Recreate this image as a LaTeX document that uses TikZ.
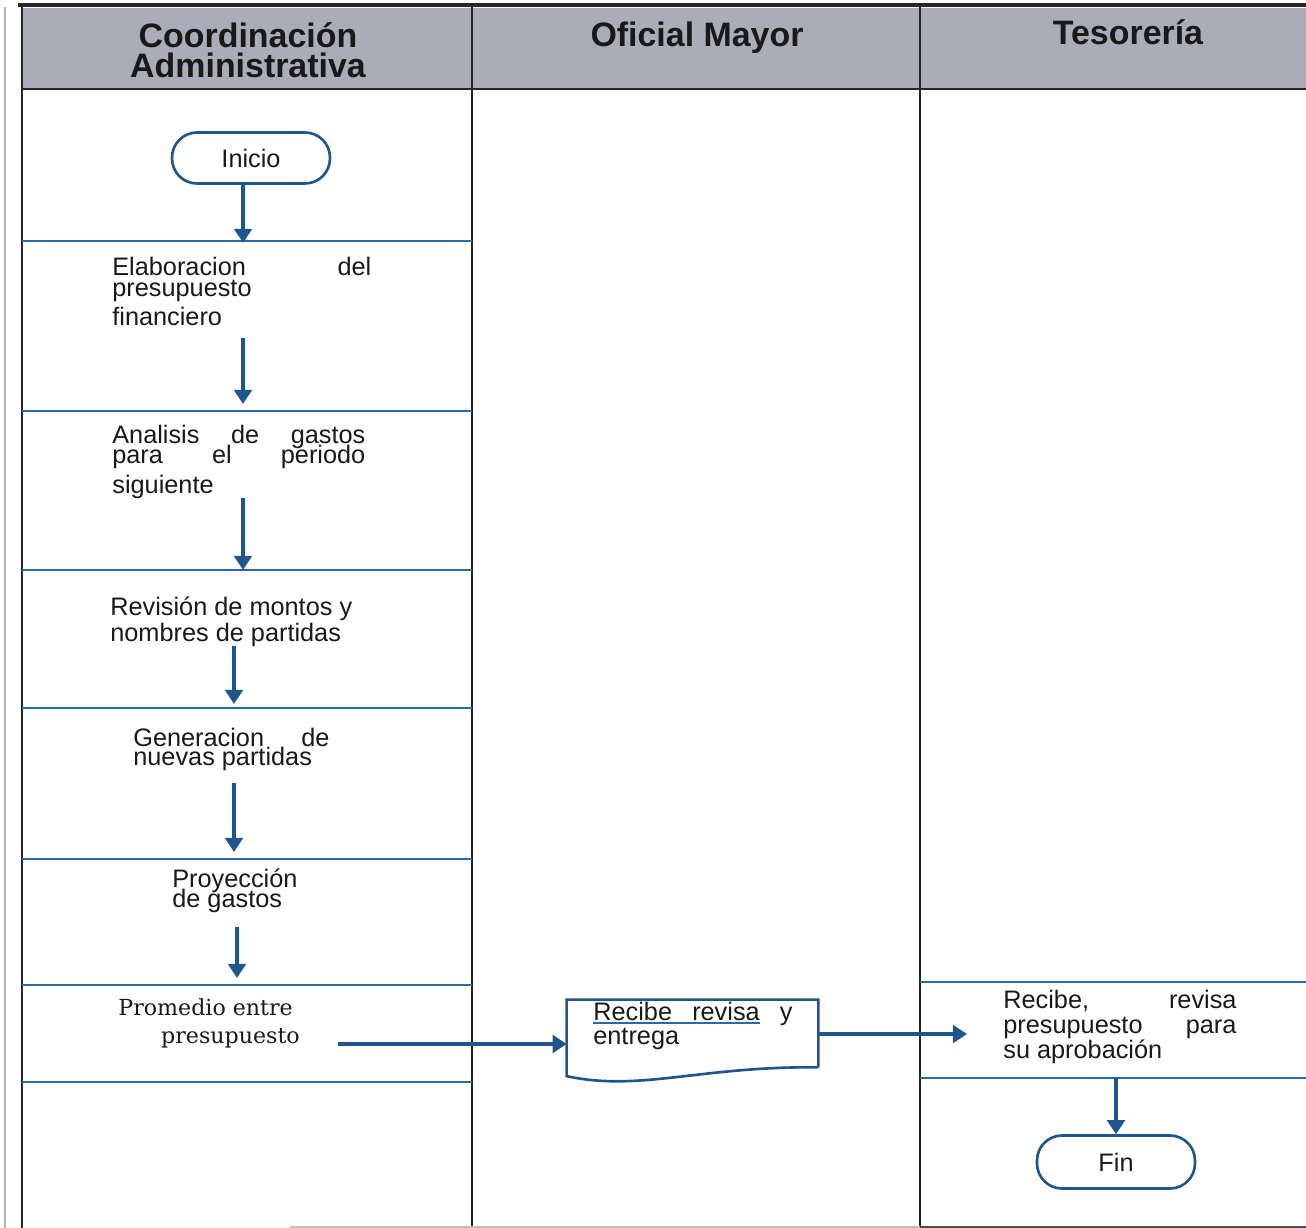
\documentclass[tikz,border=0pt]{standalone}
\usepackage{fontspec}
\setmainfont{Liberation Sans}
\newfontfamily\promfont{DejaVu Serif}
\usetikzlibrary{arrows.meta}
\tikzset{>={Triangle[width=10pt,length=8pt]}}
\definecolor{hdrgray}{RGB}{170,172,184}
\definecolor{laneblue}{RGB}{40,105,170}
\definecolor{flowblue}{RGB}{30,85,140}
\newcommand{\jline}[2]{\makebox[#1][l]{#2}}
\lineskiplimit=-30pt
\tikzset{
  hdr/.style={anchor=base, align=center, inner sep=0pt, text=black!90,
    font=\bfseries\fontsize{19.3}{17}\selectfont},
  lane/.style={laneblue, line width=1.5pt},
  rule/.style={black!85, line width=1.5pt},
  flow/.style={->, flowblue, line width=1.9pt},
  term/.style={draw=flowblue, line width=1.5pt, rounded corners=0.5cm,
    minimum width=3.16cm, minimum height=1.02cm, text=black!90,
    font=\fontsize{14.4}{16}\selectfont},
  txt/.style={anchor=base west, inner sep=0pt, align=left, text=black!90},
  sz/.style={font=\fontsize{14.4}{#1}\selectfont}
}

\begin{document}
\begin{tikzpicture}[x=0.02cm, y=-0.02cm]
  \useasboundingbox (0,0) rectangle (1306,1228);
  % header band
  \fill[hdrgray] (22,8) rectangle (1306,89);
  \draw[black!85, line width=2pt] (18,5) -- (1306,5);
  \draw[black!85, line width=1.6pt] (22,89) -- (1306,89);
  \node[hdr] (coord) at (248,77) {Coordinación\\Administrativa};
  \node[hdr] (ofmay) at (697,46) {Oficial Mayor};
  \node[hdr] (tesor) at (1128,44) {Tesorería};
  % frame and columns
  \draw[gray!60, line width=.6pt] (5,7) -- (5,1228);
  \draw[rule] (22,5) -- (22,1228);
  \draw[rule] (472,5) -- (472,1228);
  \draw[rule] (920,5) -- (920,1228);
  \draw[gray!50, line width=1pt] (290,1227) -- (920,1227);
  \draw[black!70, line width=1.5pt] (920,1227) -- (1306,1227);
  % rows
  \draw[lane] (22,241) -- (472,241);
  \draw[lane] (22,411) -- (472,411);
  \draw[lane] (22,570) -- (472,570);
  \draw[lane] (22,708) -- (472,708);
  \draw[lane] (22,859) -- (472,859);
  \draw[lane] (22,985) -- (472,985);
  \draw[lane] (22,1082) -- (472,1082);
  \draw[lane] (920,982) -- (1306,982);
  \draw[lane] (920,1078) -- (1306,1078);

  % steps
  \node[term] (ini) at (251,158) {Inicio};
  \node[txt, sz=11.9] (elab) at (112,325)
    {\jline{147.4pt}{Elaboracion\hfill del}\\presupuesto\\[4.5pt]financiero};
  \node[txt, sz=11.3] (anal) at (112,493)
    {\jline{144pt}{Analisis\hfill de\hfill gastos}\\
     \jline{144pt}{para\hfill el\hfill periodo}\\[5.7pt]siguiente};
  \node[txt, sz=14.7] (revis) at (110,641) {Revisión de montos y\\nombres de partidas};
  \node[txt, sz=10.8] (gener) at (133,765)
    {\jline{111.7pt}{Generacion\hfill de}\\nuevas partidas};
  \node[txt, sz=11.3] (proye) at (172,907) {Proyección\\de gastos};
  \node[txt, font=\promfont\fontsize{12.6}{15.9}\selectfont] (prom) at (118,1043)
    {Promedio entre\\\hspace*{24.4pt}presupuesto};
  \node[minimum width=5.02cm, minimum height=1.34cm, inner sep=0pt] (doc) at (692.5,1033.5) {};
  \draw[flowblue, line width=1.5pt] (doc.south east) -- (doc.north east) -- (doc.north west)
    -- ([yshift=-5pt]doc.south west) .. controls (640,1092) and (700,1066) .. (doc.south east);
  \node[txt, sz=13.6] (recib) at (593,1044)
    {\jline{113.4pt}{Recibe\hfill revisa\hfill y}\\entrega};
  \draw[laneblue, line width=.8pt] (593,1023) -- (760,1023);
  \node[txt, sz=14.2] (aprob) at (1003,1058)
    {\jline{132.7pt}{Recibe,\hfill revisa}\\
     \jline{132.7pt}{presupuesto\hfill para}\\su aprobación};
  \node[term, minimum height=1.06cm] (fin) at (1116,1162) {Fin};

  % arrows
  \coordinate (a7) at (338,1044);
  \coordinate (a8) at (967,1034);
  \draw[flow] ([xshift=-4.5pt]ini.south) -- ++(0,58);
  \draw[flow] (243,338) -- (243,404);
  \draw[flow] (243,498) -- (243,570);
  \draw[flow] (234,646) -- (234,704);
  \draw[flow] (234,783) -- (234,852);
  \draw[flow] (237,927) -- (237,978);
  \draw[flow] (a7) -- (a7 -| doc.west);
  \draw[flow] (doc.east |- a8) -- (a8);
  \draw[flow] (fin.north |- 0,1078) -- (fin.north);
\end{tikzpicture}
\end{document}
